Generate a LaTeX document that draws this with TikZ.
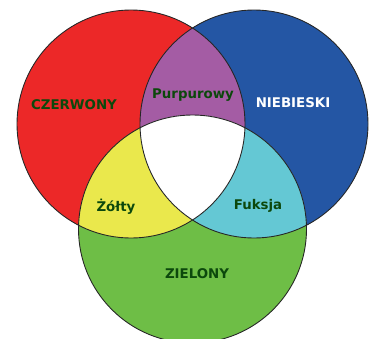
\documentclass[tikz,border=0pt]{standalone}
\usepackage{fontspec}
\setmainfont{DejaVu Sans}
\definecolor{czerw}{RGB}{236,40,40}
\definecolor{nieb}{RGB}{36,86,164}
\definecolor{ziel}{RGB}{110,190,70}
\definecolor{purp}{RGB}{164,92,164}
\definecolor{zolty}{RGB}{234,232,76}
\definecolor{fuks}{RGB}{100,200,212}
\definecolor{napis}{RGB}{12,72,12}
\tikzset{
  label text/.style={font=\fontsize{7.6}{9}\selectfont\bfseries,text=#1},
  label text/.default=napis,
  rim/.style={draw=black!85,line width=0.5pt},
}
\begin{document}
\begin{tikzpicture}[x=0.02cm,y=-0.02cm]
  \useasboundingbox (0,0) rectangle (371,338);
  % circle centres
  \coordinate (r) at (131,124);
  \coordinate (b) at (254,124);
  \coordinate (g) at (192.5,229);
  \def\rad{114}
  % plain fills
  \fill[czerw] (r) circle (\rad);
  \fill[nieb] (b) circle (\rad);
  \fill[ziel] (g) circle (\rad);
  % pairwise overlaps
  \begin{scope}
    \clip (r) circle (\rad);
    \fill[purp] (b) circle (\rad);
    \fill[zolty] (g) circle (\rad);
  \end{scope}
  \begin{scope}
    \clip (b) circle (\rad);
    \fill[fuks] (g) circle (\rad);
    \clip (r) circle (\rad);
    \fill[white] (g) circle (\rad);
  \end{scope}
  % outlines
  \foreach \c in {r,b,g} \draw[rim] (\c) circle (\rad);
  % labels
  \node[label text] (czerwony) at (74,105) {CZERWONY};
  \node[label text] (purpurowy) at (193,95) {Purpurowy};
  \node[label text=white] (niebieski) at (293,103) {NIEBIESKI};
  \node[label text] (zolty) at (116,207) {Żółty};
  \node[label text] (fuksja) at (258,206) {Fuksja};
  \node[label text] (zielony) at (197,274) {ZIELONY};
\end{tikzpicture}
\end{document}
